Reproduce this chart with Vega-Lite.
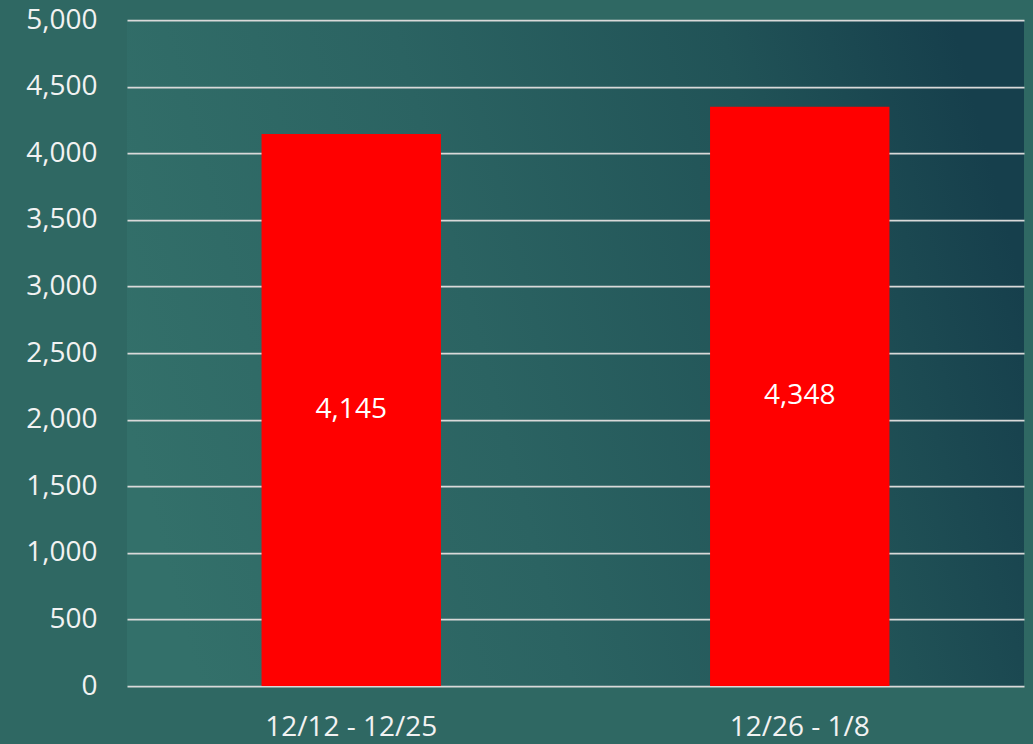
{
  "$schema": "https://vega.github.io/schema/vega-lite/v6.json",
  "width": 897,
  "height": 666,
  "autosize": {"type": "none"},
  "padding": {"left": 127, "top": 20, "right": 9, "bottom": 58},
  "background": "#2f6863",
  "config": {
    "view": {
      "stroke": null,
      "fill": {
        "gradient": "linear",
        "x1": 0, "y1": 0.6, "x2": 1, "y2": 0.4,
        "stops": [
          {"offset": 0, "color": "#33706a"},
          {"offset": 0.4, "color": "#2b6362"},
          {"offset": 0.75, "color": "#215357"},
          {"offset": 1, "color": "#163f4c"}
        ]
      }
    },
    "font": "Open Sans"
  },
  "data": {
    "values": [
      {"period": "12/12 - 12/25", "count": 4145},
      {"period": "12/26 - 1/8", "count": 4348}
    ]
  },
  "encoding": {
    "x": {
      "field": "period",
      "type": "nominal",
      "sort": null,
      "scale": {"paddingInner": 0.6, "paddingOuter": 0.3},
      "axis": {
        "title": null,
        "labelAngle": 0,
        "labelFont": "Open Sans",
        "labelFontSize": 28,
        "labelColor": "#f2f2f2",
        "labelPadding": 27,
        "ticks": false,
        "tickSize": 0,
        "domain": false,
        "grid": false
      }
    }
  },
  "layer": [
    {
      "mark": {"type": "bar", "color": "#ff0000"},
      "encoding": {
        "y": {
          "field": "count",
          "type": "quantitative",
          "scale": {"domain": [0, 5000], "nice": false},
          "axis": {
            "title": null,
            "values": [0, 500, 1000, 1500, 2000, 2500, 3000, 3500, 4000, 4500, 5000],
            "format": ",.0f",
            "labelFont": "Open Sans",
            "labelFontSize": 28,
            "labelColor": "#f2f2f2",
            "labelPadding": 30,
            "ticks": false,
            "tickSize": 0,
            "domain": false,
            "grid": true,
            "gridColor": "#d9d9d9",
            "gridWidth": 1.75,
            "zindex": 0
          }
        }
      }
    },
    {
      "mark": {"type": "text", "color": "#ffffff", "fontSize": 28, "font": "Open Sans", "baseline": "middle"},
      "encoding": {
        "y": {"field": "count", "type": "quantitative", "stack": "zero", "bandPosition": 0.5},
        "text": {"field": "count", "type": "quantitative", "format": ",.0f"}
      }
    }
  ]
}
